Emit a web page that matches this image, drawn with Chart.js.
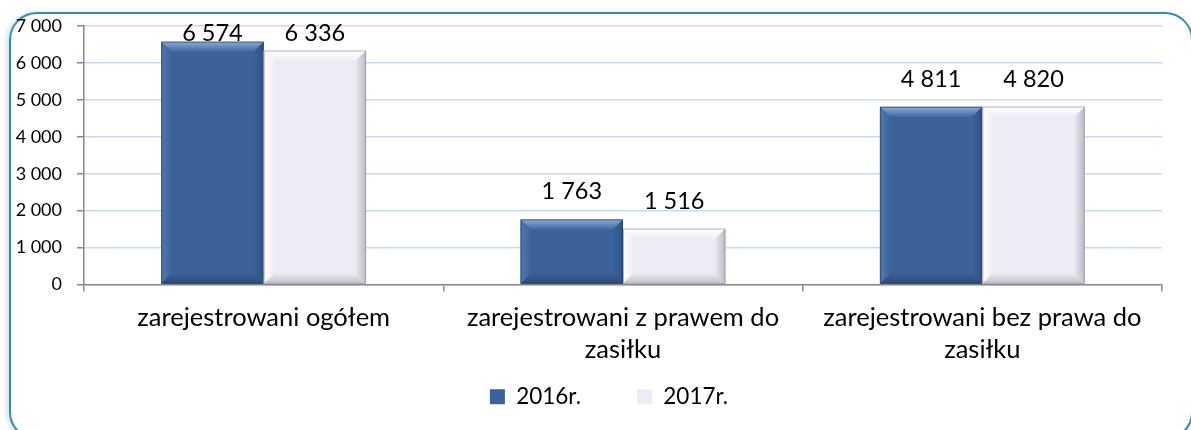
<!DOCTYPE html>
<html>
<head>
<meta charset="utf-8">
<script src="https://cdn.jsdelivr.net/npm/chart.js@4/dist/chart.umd.min.js"></script>
<style>
html,body{margin:0;padding:0;background:#fff;}
#wrap{position:relative;width:1191px;height:430px;overflow:hidden;}
#frame{position:absolute;left:9px;top:12px;width:1184px;height:428px;border:2px solid #3A8CA2;border-radius:28px;box-sizing:border-box;box-shadow:-3px 0 4px rgba(120,190,210,0.35);}
#c{position:absolute;left:0;top:0;}
</style>
</head>
<body>
<div id="wrap">
<div id="frame"></div>
<canvas id="c" width="1191" height="430"></canvas>
</div>
<script>
const categories = [
  ['zarejestrowani ogółem'],
  ['zarejestrowani z prawem do', 'zasiłku'],
  ['zarejestrowani bez prawa do', 'zasiłku']
];
const seriesNames = ['2016r.', '2017r.'];
const values2016 = [6574, 1763, 4811];
const values2017 = [6336, 1516, 4820];
const yMax = 7000;
const yStep = 1000;

const FONT = 'Lato, "Open Sans", sans-serif';
const FILLS = ['#3B6399', '#EFEBF5'];
function fmt(v){ return String(v).replace(/\B(?=(\d{3})+(?!\d))/g, ' '); }

const bevelPlugin = {
  id: 'bevel',
  afterDatasetsDraw(chart) {
    const ctx = chart.ctx;
    const styles = [
      {top:'#8CABD8', left:'#5277AE', right:'#2E5287', bottom:'#2A4A7B', edge:'rgba(30,55,95,0.6)'},
      {top:'#FFFFFF', left:'#FFFFFF', right:'#BCB8C4', bottom:'#C4C0CA', edge:'rgba(150,145,160,0.7)'}
    ];
    chart.data.datasets.forEach((ds, di) => {
      const meta = chart.getDatasetMeta(di);
      const st = styles[di];
      const fill = FILLS[di];
      meta.data.forEach(bar => {
        const l = bar.x - bar.width/2, r = bar.x + bar.width/2;
        const t = bar.y, b = bar.base;
        const bv = Math.min(11, (b - t)/2, bar.width/2);
        ctx.save();
        const poly = (pts, grad) => { ctx.beginPath(); ctx.moveTo(pts[0][0], pts[0][1]); for (let i=1;i<pts.length;i++) ctx.lineTo(pts[i][0], pts[i][1]); ctx.closePath(); ctx.fillStyle = grad; ctx.fill(); };
        const lg = (x0,y0,x1,y1,c0) => { const g = ctx.createLinearGradient(x0,y0,x1,y1); g.addColorStop(0,c0); g.addColorStop(1,fill); return g; };
        poly([[l,t],[r,t],[r-bv,t+bv],[l+bv,t+bv]], lg(0,t,0,t+bv,st.top));
        poly([[l,t],[l+bv,t+bv],[l+bv,b-bv],[l,b]], lg(l,0,l+bv,0,st.left));
        poly([[r,t],[r,b],[r-bv,b-bv],[r-bv,t+bv]], lg(r,0,r-bv,0,st.right));
        poly([[l,b],[l+bv,b-bv],[r-bv,b-bv],[r,b]], lg(0,b,0,b-bv,st.bottom));
        ctx.strokeStyle = st.edge;
        ctx.lineWidth = 1;
        ctx.strokeRect(l+0.5, t+0.5, r-l-1, b-t-1);
        ctx.restore();
      });
    });
  }
};

const labelPlugin = {
  id: 'valueLabels',
  afterDatasetsDraw(chart) {
    const ctx = chart.ctx;
    ctx.save();
    ctx.font = '23.5px ' + FONT;
    ctx.fillStyle = '#000';
    ctx.textAlign = 'center';
    ctx.textBaseline = 'alphabetic';
    chart.data.datasets.forEach((ds, di) => {
      const meta = chart.getDatasetMeta(di);
      meta.data.forEach((bar, i) => {
        const base = Math.max(bar.y - 20, chart.chartArea.top + 15);
        ctx.fillText(fmt(ds.data[i]), bar.x, base);
      });
    });
    ctx.restore();
  }
};

const legendShift = {
  id: 'legendShift',
  afterLayout(chart) {
    if (chart.legend) { chart.legend.left += 28; chart.legend.right += 28; }
  }
};

new Chart(document.getElementById('c'), {
  type: 'bar',
  data: {
    labels: categories,
    datasets: [
      {label: seriesNames[0], data: values2016, backgroundColor: FILLS[0], borderWidth: 0},
      {label: seriesNames[1], data: values2017, backgroundColor: FILLS[1], borderWidth: 0}
    ]
  },
  options: {
    responsive: false,
    animation: false,
    layout: {padding: {left: 0, right: 29, top: 26, bottom: 12}},
    datasets: {bar: {barPercentage: 1.0, categoryPercentage: 0.57}},
    scales: {
      x: {
        offset: true,
        grid: {offset: true, drawOnChartArea: false, tickLength: 7, color: '#888888', lineWidth: 1.5},
        border: {color: '#888888', width: 1.5},
        ticks: {color: '#000', font: {family: FONT, size: 25.5, lineHeight: '32px'}, padding: 10, maxRotation: 0, autoSkip: false},
        afterFit(s) { s.height = 91; }
      },
      y: {
        min: 0, max: yMax,
        grid: {color: '#C8DAF0', lineWidth: 1.5, tickLength: 7, tickColor: '#888888'},
        border: {color: '#888888', width: 1.5},
        ticks: {stepSize: yStep, color: '#000', font: {family: FONT, size: 18}, padding: 15, callback: v => fmt(v)},
        afterFit(s) { s.width = 84; }
      }
    },
    plugins: {
      legend: {
        position: 'bottom',
        labels: {
          color: '#000', font: {family: FONT, size: 22.5}, boxWidth: 15, boxHeight: 15, padding: 10,
          generateLabels(chart) {
            const items = Chart.defaults.plugins.legend.labels.generateLabels(chart);
            items.forEach((it, i) => { it.lineWidth = 0; if (i < items.length - 1) it.text = it.text + '        '; });
            return items;
          }
        }
      },
      tooltip: {enabled: false}
    }
  },
  plugins: [bevelPlugin, labelPlugin, legendShift]
});
</script>
</body>
</html>
